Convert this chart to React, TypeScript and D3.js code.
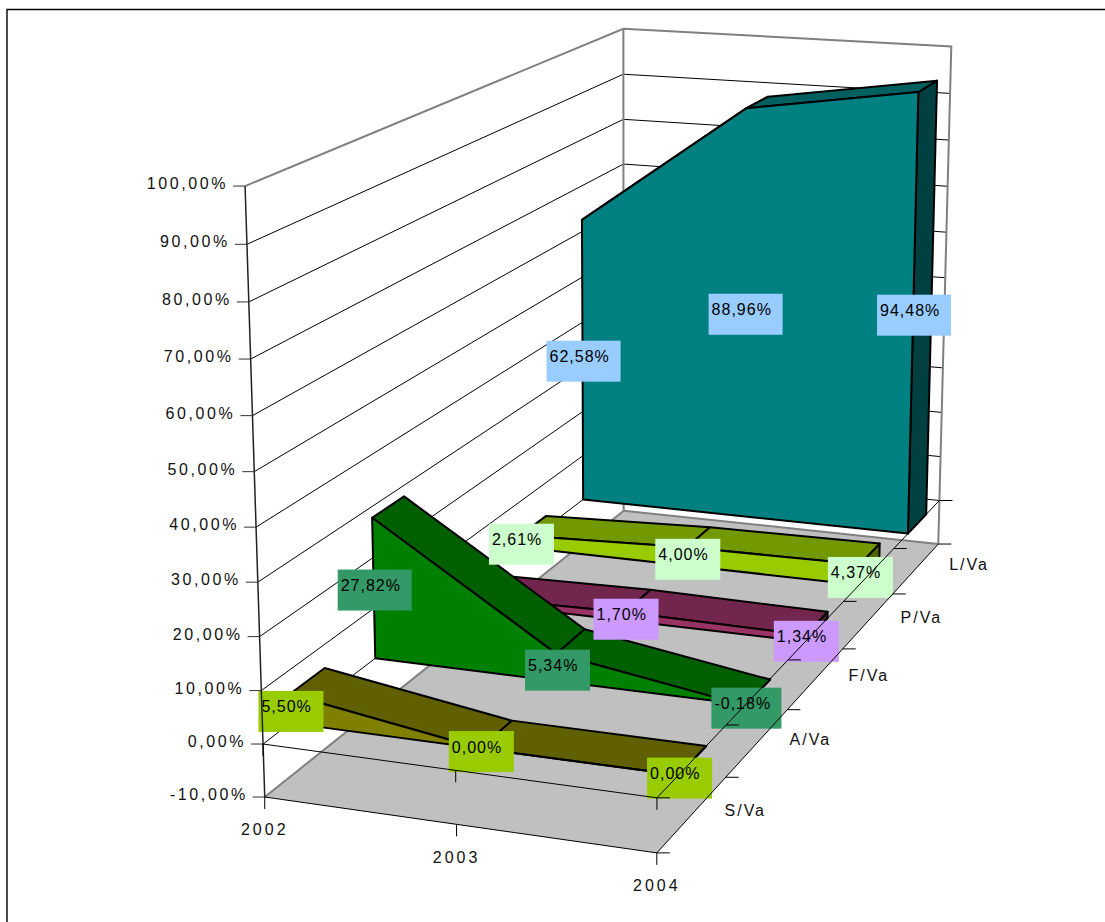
import React from "react";
import * as d3 from "d3";

// Chart values
const years = ["2002", "2003", "2004"];
const seriesNames = ["S/Va", "A/Va", "F/Va", "P/Va", "L/Va"];
const sVa = [5.5, 0, 0];
const aVa = [27.82, 5.34, -0.18];
const fVa = [1.0, 1.7, 1.34];
const pVa = [2.61, 4.0, 4.37];
const lVa = [62.58, 88.96, 94.48];
const seriesValues = [sVa, aVa, fVa, pVa, lVa];
const valueTicks = [-10, 0, 10, 20, 30, 40, 50, 60, 70, 80, 90, 100];
// F/Va carries no value label at its first year
const unlabelled = ["F/Va|2002"];

const frontColors = ["#808000", "#008000", "#993366", "#99CC00", "#008080"];
const topColors = ["#606000", "#006000", "#73264D", "#739900", "#006060"];
const sideColors = ["#404000", "#004000", "#4D1933", "#4D6600", "#004040"];
const labelColors = ["#99CC00", "#339966", "#CC99FF", "#CCFFCC", "#99CCFF"];

const W = 1105;
const H = 922;
const FONT = "'Liberation Sans', Arial, sans-serif";

// Calibration of the box: [x 0..1, value, depth 0..1] -> screen point
const calibration: [number, number, number, number, number][] = [
  [0, -10, 0, 265, 798],
  [0.5, -10, 0, 457, 825],
  [1, -10, 0, 656, 853],
  [1, -10, 0.2, 728, 776],
  [1, -10, 0.4, 787, 709],
  [1, -10, 0.6, 842, 649],
  [1, -10, 0.8, 893, 595],
  [1, -10, 1, 940, 543],
  [0, -10, 1, 623, 510],
  [0, 100, 0, 245, 186],
  [0, 50, 0, 254, 472],
  [0, 0, 0, 263, 743],
  [0, 100, 1, 624, 29],
  [1, 100, 1, 951, 46],
  [1, 0, 0, 656, 798],
  [1, 0, 1, 938, 502],
];

const unitValue = d3.scaleLinear().domain([-10, 100]).range([0, 1]);

// Least-squares fit of a 3x4 projective camera with its last entry fixed at 1
function fitCamera(rows: typeof calibration): number[] {
  const n = 11;
  const A = Array.from({ length: n }, () => new Array(n + 1).fill(0));
  const add = (r: number[], b: number) => {
    for (let i = 0; i < n; i++) {
      for (let j = 0; j < n; j++) A[i][j] += r[i] * r[j];
      A[i][n] += r[i] * b;
    }
  };
  rows.forEach(([x, v, z, u, w]) => {
    const y = unitValue(v);
    add([x, y, z, 1, 0, 0, 0, 0, -u * x, -u * y, -u * z], u);
    add([0, 0, 0, 0, x, y, z, 1, -w * x, -w * y, -w * z], w);
  });
  for (let c = 0; c < n; c++) {
    let p = c;
    for (let r = c + 1; r < n; r++) if (Math.abs(A[r][c]) > Math.abs(A[p][c])) p = r;
    [A[c], A[p]] = [A[p], A[c]];
    for (let r = 0; r < n; r++) {
      if (r === c) continue;
      const f = A[r][c] / A[c][c];
      for (let k = c; k <= n; k++) A[r][k] -= f * A[c][k];
    }
  }
  return A.map((row, i) => row[n] / row[i]);
}

const cam = fitCamera(calibration);

function project(x: number, v: number, z: number): [number, number] {
  const y = unitValue(v);
  const d = cam[8] * x + cam[9] * y + cam[10] * z + 1;
  return [
    (cam[0] * x + cam[1] * y + cam[2] * z + cam[3]) / d,
    (cam[4] * x + cam[5] * y + cam[6] * z + cam[7]) / d,
  ];
}

const xScale = d3.scalePoint<string>().domain(years).range([0, 1]);
const zScale = d3
  .scaleBand<string>()
  .domain(seriesNames)
  .range([0, 1])
  .paddingInner(0.6)
  .paddingOuter(0.3);

const line = d3.line<[number, number]>();
const poly = (pts: [number, number][]) => (line(pts) ?? "") + "Z";
const seg = (a: [number, number], b: [number, number]) => line([a, b]) ?? "";

const digitCount = (s: string) => s.replace(/[^0-9]/g, "").length;
const boxWidth = (s: string) => 38 + 9 * digitCount(s) + (s.startsWith("-") ? 5 : 0);
const pct = (v: number) => v.toFixed(2).replace(".", ",") + "%";

export default function App() {
  const xs = years.map((y) => xScale(y) as number);
  const floorY = -10;
  const top = 100;
  const depthEdges = d3.range(0, 1.0001, 0.2);

  return (
    <svg
      width={W}
      height={H}
      viewBox={`0 0 ${W} ${H}`}
      style={{ position: "absolute", left: 0, top: 0, background: "#fff" }}
      fontFamily={FONT}
    >
      {/* Outer frame: open on the right and at the bottom */}
      <path d="M7,922V9.5H1105" fill="none" stroke="#000" strokeWidth={1.4} />

      {/* Floor */}
      <path
        d={poly([project(0, floorY, 0), project(1, floorY, 0), project(1, floorY, 1), project(0, floorY, 1)])}
        fill="#C0C0C0"
      />
      <path d={seg(project(0, floorY, 0), project(0, floorY, 1))} stroke="#808080" strokeWidth={2} fill="none" />
      <path d={seg(project(0, floorY, 1), project(1, floorY, 1))} stroke="#808080" strokeWidth={2} fill="none" />

      {/* Wall gridlines */}
      {valueTicks.slice(1, -1).map((v) => (
        <path
          key={v}
          d={line([project(0, v, 0), project(0, v, 1), project(1, v, 1)]) ?? ""}
          fill="none"
          stroke="#000"
          strokeWidth={1}
        />
      ))}
      <path
        d={line([project(0, top, 0), project(0, top, 1), project(1, top, 1), project(1, floorY, 1)]) ?? ""}
        fill="none"
        stroke="#808080"
        strokeWidth={2}
      />
      <path d={seg(project(0, top, 1), project(0, floorY, 1))} fill="none" stroke="#808080" strokeWidth={2} />

      {/* Ribbons, back to front; the front face goes last so it hides any top facet turned away */}
      {seriesNames
        .map((name, i) => ({ name, i }))
        .reverse()
        .map(({ name, i }) => {
          const vals = seriesValues[i];
          const z0 = zScale(name) as number;
          const z1 = z0 + zScale.bandwidth();
          const frontTop = vals.map((v, k) => project(xs[k], v, z0));
          const backTop = vals.map((v, k) => project(xs[k], v, z1));
          const base0 = project(0, 0, z0);
          const base1 = project(1, 0, z0);
          const last = vals.length - 1;
          return (
            <g key={name} stroke="#000" strokeWidth={2} strokeLinejoin="round">
              <path
                d={poly([frontTop[last], backTop[last], project(1, 0, z1), base1])}
                fill={sideColors[i]}
              />
              {vals.slice(1).map((_, k) => (
                <path
                  key={k}
                  d={poly([frontTop[k], frontTop[k + 1], backTop[k + 1], backTop[k]])}
                  fill={topColors[i]}
                />
              ))}
              <path d={poly([...frontTop, base1, base0])} fill={frontColors[i]} />
            </g>
          );
        })}

      {/* Data labels, centred on the middle of each front face */}
      {seriesNames.map((name, i) =>
        seriesValues[i].map((v, k) => {
          if (unlabelled.includes(`${name}|${years[k]}`)) return null;
          const zc = zScale(name) as number;
          const [cx, rawY] = project(xs[k], v / 2, zc);
          const cy = rawY + 3.5 - 0.05 * v;
          const text = pct(v);
          const w = boxWidth(text);
          const left = cx - w / 2 + 1;
          return (
            <g key={name + k}>
              <rect x={left} y={cy - 21} width={w} height={41} fill={labelColors[i]} />
              <text x={left + 3} y={cy + 0.5} fontSize={16} letterSpacing={1} fill="#000">
                {text}
              </text>
            </g>
          );
        })
      )}

      {/* Value axis */}
      <path d={seg(project(0, top, 0), project(0, floorY, 0))} stroke="#222" strokeWidth={1.5} fill="none" />
      {valueTicks.map((v) => {
        const [px, py] = project(0, v, 0);
        return (
          <g key={v}>
            <path d={seg([px - 12, py], [px, py])} stroke="#333" strokeWidth={1} fill="none" />
            <text
              x={px - 17}
              y={py + 3}
              textAnchor="end"
              fontSize={16}
              letterSpacing={2.6}
              fill="#111"
            >
              {pct(v)}
            </text>
          </g>
        );
      })}

      {/* Zero plane edges and floor front edges with their ticks */}
      {[0, floorY].map((v) => (
        <g key={v} fill="none" stroke="#000" strokeWidth={1}>
          <path d={seg(project(0, v, 0), project(1, v, 0))} />
          <path d={seg(project(1, v, 0), project(1, v, 1))} />
          {xs.map((x) => {
            const [px, py] = project(x, v, 0);
            return <path key={x} d={seg([px, py], [px, py + 12])} />;
          })}
          {depthEdges.map((z) => {
            const [px, py] = project(1, v, z);
            return <path key={z} d={seg([px, py], [px + 13, py])} />;
          })}
        </g>
      ))}

      {/* Year labels */}
      {years.map((y, k) => {
        const [px, py] = project(xs[k], floorY, 0);
        return (
          <text key={y} x={px} y={py + 38.5} textAnchor="middle" fontSize={16} letterSpacing={3} fill="#111">
            {y}
          </text>
        );
      })}

      {/* Series labels along the depth axis */}
      {seriesNames.map((name) => {
        const zc = (zScale(name) as number) + zScale.bandwidth() / 2;
        const [px, py] = project(1, floorY, zc);
        return (
          <text key={name} x={px + 53} y={py + 2} textAnchor="middle" fontSize={16} letterSpacing={2} fill="#111">
            {name}
          </text>
        );
      })}
    </svg>
  );
}
